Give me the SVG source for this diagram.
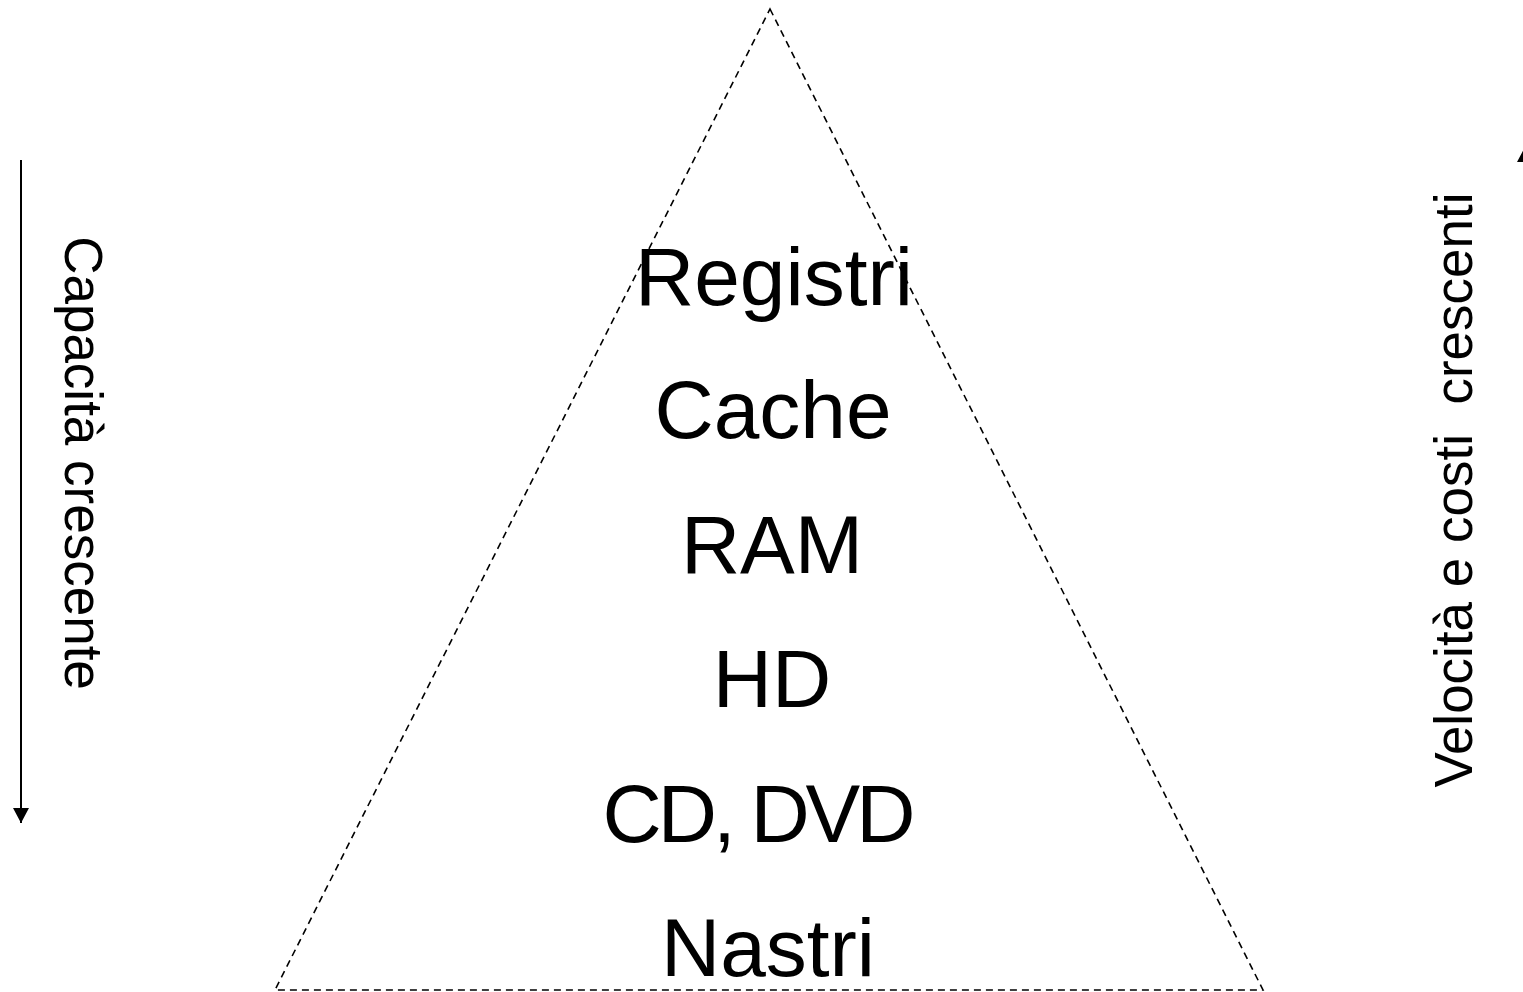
<svg xmlns="http://www.w3.org/2000/svg" width="1523" height="992" viewBox="0 0 1523 992">
<style>
.lbl{font-family:"Liberation Sans",Arial,sans-serif;font-size:82px;fill:#000;text-anchor:middle}
.side{font-family:"Liberation Sans",Arial,sans-serif;font-size:53px;fill:#000;text-anchor:middle}
.tri{fill:none;stroke:#000;stroke-width:1.6;stroke-dasharray:7,5}
.ax{stroke:#000;stroke-width:2;fill:none}
</style>
<defs>
<marker id="ah" markerWidth="16" markerHeight="16" refX="15" refY="8" orient="auto" markerUnits="userSpaceOnUse">
<path d="M0,0 L15,8 L0,16 Z" fill="#000"/>
</marker>
</defs>
<rect width="1523" height="992" fill="#fff"/>
<g id="pyramid">
<path class="tri" d="M770,9 L1263,990 L275,990 Z"/>
</g>
<g id="connectors">
<line class="ax" x1="21" y1="160" x2="21" y2="823" marker-end="url(#ah)"/>
<line class="ax" x1="1525" y1="820" x2="1525" y2="147" marker-end="url(#ah)"/>
</g>
<g id="n-registri"><text class="lbl" x="774" y="305">Registri</text></g>
<g id="n-cache"><text class="lbl" x="773" y="438">Cache</text></g>
<g id="n-ram"><text class="lbl" x="772" y="573">RAM</text></g>
<g id="n-hd"><text class="lbl" x="772" y="707">HD</text></g>
<g id="n-cddvd"><text class="lbl" x="759" y="842" font-size="79" textLength="313" lengthAdjust="spacing">CD, DVD</text></g>
<g id="n-nastri"><text class="lbl" x="768" y="976">Nastri</text></g>
<g id="l-capacita"><text class="side" transform="translate(65,463) rotate(90)">Capacità crescente</text></g>
<g id="l-velocita"><text class="side" transform="translate(1472,490) rotate(-90)" xml:space="preserve">Velocità e costi  crescenti</text></g>
</svg>
